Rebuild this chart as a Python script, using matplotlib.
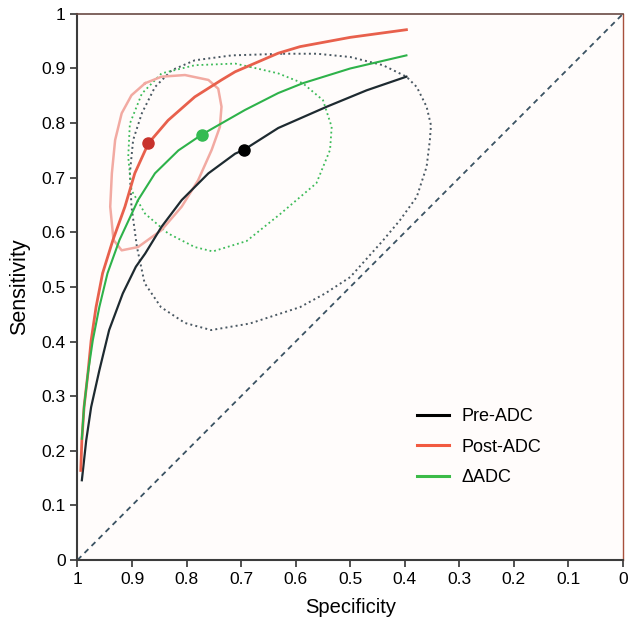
import numpy as np
import matplotlib.pyplot as plt

plt.rcParams['font.family'] = ['Liberation Sans', 'DejaVu Sans']

# SROC curves (specificity, sensitivity)
pre_spec = [0.992, 0.984, 0.975, 0.960, 0.942, 0.917, 0.893, 0.876, 0.846, 0.809, 0.760, 0.711,
            0.695, 0.632, 0.543, 0.470, 0.397]
pre_sens = [0.146, 0.219, 0.280, 0.347, 0.421, 0.488, 0.537, 0.561, 0.610, 0.659, 0.708, 0.744,
            0.751, 0.791, 0.830, 0.860, 0.885]

post_spec = [0.994, 0.992, 0.988, 0.981, 0.975, 0.966, 0.954, 0.935, 0.913, 0.895, 0.870, 0.834,
             0.785, 0.736, 0.711, 0.632, 0.592, 0.50, 0.397]
post_sens = [0.164, 0.219, 0.280, 0.341, 0.402, 0.463, 0.525, 0.586, 0.647, 0.708, 0.763, 0.805,
             0.848, 0.879, 0.894, 0.928, 0.940, 0.957, 0.971]

delta_spec = [0.992, 0.988, 0.981, 0.972, 0.960, 0.945, 0.923, 0.889, 0.858, 0.815, 0.772, 0.693,
              0.632, 0.587, 0.50, 0.397]
delta_sens = [0.222, 0.280, 0.341, 0.402, 0.463, 0.525, 0.586, 0.659, 0.708, 0.750, 0.779, 0.824,
              0.855, 0.873, 0.90, 0.924]

# summary points
pre_pt = (0.695, 0.751)
post_pt = (0.870, 0.763)
delta_pt = (0.772, 0.779)

# 95% confidence regions
pre_ell_spec = [0.623, 0.561, 0.500, 0.440, 0.397, 0.378, 0.360, 0.352, 0.354, 0.360, 0.378, 0.409,
                0.440, 0.500, 0.546, 0.592, 0.684, 0.755, 0.803, 0.847, 0.877, 0.891, 0.901, 0.904,
                0.898, 0.882, 0.858, 0.827, 0.785, 0.717]
pre_ell_sens = [0.927, 0.927, 0.921, 0.906, 0.885, 0.866, 0.830, 0.796, 0.769, 0.720, 0.665, 0.622,
                0.585, 0.518, 0.488, 0.463, 0.433, 0.421, 0.434, 0.463, 0.507, 0.573, 0.647, 0.708,
                0.769, 0.818, 0.866, 0.897, 0.915, 0.924]

delta_ell_spec = [0.684, 0.632, 0.587, 0.550, 0.534, 0.537, 0.562, 0.629, 0.690, 0.752, 0.785, 0.834,
                  0.876, 0.901, 0.907, 0.904, 0.882, 0.846, 0.785, 0.711]
delta_ell_sens = [0.903, 0.891, 0.873, 0.842, 0.793, 0.751, 0.690, 0.633, 0.584, 0.565, 0.573, 0.598,
                  0.634, 0.677, 0.738, 0.799, 0.854, 0.891, 0.906, 0.909]

post_ell_spec = [0.876, 0.846, 0.803, 0.760, 0.742, 0.736, 0.739, 0.754, 0.779, 0.809, 0.846, 0.889,
                 0.919, 0.934, 0.940, 0.937, 0.931, 0.919, 0.901]
post_ell_sens = [0.873, 0.885, 0.888, 0.879, 0.863, 0.830, 0.793, 0.751, 0.695, 0.647, 0.604, 0.573,
                 0.567, 0.586, 0.647, 0.708, 0.769, 0.818, 0.851]

xticks = [1, 0.9, 0.8, 0.7, 0.6, 0.5, 0.4, 0.3, 0.2, 0.1, 0]
yticks = [0, 0.1, 0.2, 0.3, 0.4, 0.5, 0.6, 0.7, 0.8, 0.9, 1]

black = '#1e2a30'
red = '#e8604c'
green = '#2eb24a'

fig = plt.figure(figsize=(6.28, 6.22), dpi=100)
ax = fig.add_axes([0.1234, 0.0997, 0.8686, 0.878])
ax.set_facecolor('#fffcfb')


def closed(a):
    return list(a) + [a[0]]


# chance line
ax.plot([1, 0], [0, 1], linestyle=(0, (3, 2.5)), color='#3a5262', lw=1.3)

# confidence regions
ax.plot(closed(pre_ell_spec), closed(pre_ell_sens), ':', color='#4a5862', lw=1.4)
ax.plot(closed(delta_ell_spec), closed(delta_ell_sens), ':', color='#3cbb58', lw=1.3)
ax.plot(closed(post_ell_spec), closed(post_ell_sens), '-', color='#f2aaa2', lw=1.8)

# curves
ax.plot(pre_spec, pre_sens, color=black, lw=1.6)
ax.plot(post_spec, post_sens, color=red, lw=2.0)
ax.plot(delta_spec, delta_sens, color=green, lw=1.5)

ax.plot(*pre_pt, 'o', color='#000000', ms=8)
ax.plot(*post_pt, 'o', color='#c8322c', ms=8)
ax.plot(*delta_pt, 'o', color='#34bb52', ms=8)

# legend
h1, = ax.plot([], [], color='#000000', lw=2.2)
h2, = ax.plot([], [], color='#f25a40', lw=2.2)
h3, = ax.plot([], [], color='#3cbb48', lw=2.2)
ax.legend([h1, h2, h3], ['Pre-ADC', 'Post-ADC', '\u0394ADC'], loc='upper left',
          bbox_to_anchor=(0.592, 0.308), frameon=False, fontsize=13,
          handlelength=1.8, handletextpad=0.7, labelspacing=0.75)

ax.set_xlim(1, 0)
ax.set_ylim(0, 1)
ax.set_xticks(xticks)
ax.set_xticklabels([f'{v:g}' for v in xticks])
ax.set_yticks(yticks)
ax.set_yticklabels([f'{v:g}' for v in yticks])
ax.tick_params(direction='out', length=5, width=1.2, labelsize=12.5, color='#333333')
ax.set_xlabel('Specificity', fontsize=14.5, labelpad=8)
ax.set_ylabel('Sensitivity', fontsize=15.5, labelpad=8)

for s in ['left', 'bottom']:
    ax.spines[s].set_color('#3c3c3c')
    ax.spines[s].set_linewidth(1.5)
ax.spines['top'].set_color('#6a4a44')
ax.spines['right'].set_color('#a8503c')
ax.spines['top'].set_linewidth(1.2)
ax.spines['right'].set_linewidth(1.0)

fig.savefig('out.png', dpi=100)
